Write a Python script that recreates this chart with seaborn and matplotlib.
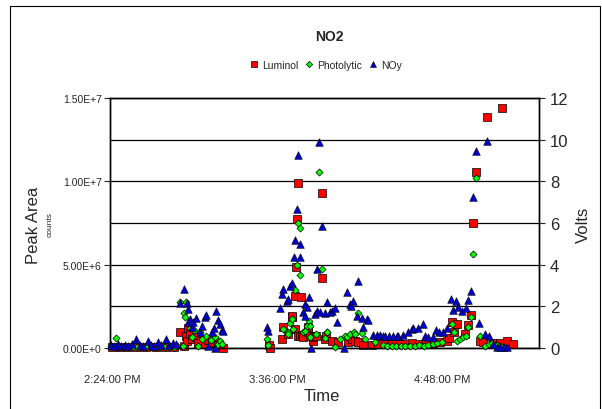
import numpy as np
import pandas as pd
import matplotlib
matplotlib.use('Agg')
from matplotlib import pyplot as plt
from matplotlib.lines import Line2D
from matplotlib.patches import Rectangle
from matplotlib.ticker import MultipleLocator, FuncFormatter
import seaborn as sns

############ --------------- DATA --------------- ###########
# time = minutes after 2:00 PM
# luminol: peak area, millions of counts
luminol = [(24.0, 0.05), (27.5, 0.06), (31.0, 0.04), (35.0, 0.06), (39.0, 0.05), (43.0, 0.06), (47.0, 0.05), (51.0, 0.07),
           (53.7, 0.96), (55.4, 0.12), (56.3, 0.72), (56.7, 0.42), (57.2, 1.20), (58.0, 0.84), (59.0, 0.56), (60.7, 0.66),
           (61.5, 0.30), (63.0, 0.44), (64.6, 0.24), (66.0, 0.50), (67.6, 0.30), (69.0, 0.38), (70.3, 0.18), (72.4, 0.02),
           (92.5, 0.19), (92.9, 0.03), (98.0, 0.54), (98.7, 1.24), (100.7, 0.84), (102.4, 1.84), (102.7, 1.94), (103.9, 1.14),
           (103.9, 3.14), (104.2, 4.88), (104.8, 7.74), (105.1, 9.90), (105.3, 0.74), (106.0, 0.74), (106.3, 3.08), (106.8, 0.78),
           (107.5, 0.66), (109.7, 0.94), (109.7, 1.28), (110.4, 0.75), (111.6, 0.44), (111.8, 0.64), (113.0, 0.74), (115.5, 4.20),
           (115.5, 9.29), (117.0, 0.54), (117.4, 0.74), (119.9, 0.44), (122.8, 0.38), (127.1, 0.34), (128.6, 0.54), (130.0, 0.44),
           (131.5, 0.38), (133.6, 0.18), (137.3, 0.18),
           (140.0, 0.25), (143.0, 0.22), (146.0, 0.28), (149.0, 0.25), (152.0, 0.22), (155.0, 0.28), (158.0, 0.25), (161.0, 0.28),
           (164.0, 0.31), (167.0, 0.35),
           (170.0, 0.44), (171.2, 0.58), (172.2, 1.54), (173.2, 0.98), (174.4, 1.44), (178.0, 0.84), (179.5, 1.38), (180.5, 1.98),
           (181.7, 7.49), (182.8, 10.54), (184.6, 0.44), (186.0, 0.34), (187.8, 13.84), (190.4, 0.30), (193.3, 0.30), (194.0, 14.40),
           (196.2, 0.44), (199.1, 0.24)]

# photolytic: volts
photolytic = [(23.5, 0.08), (25.7, 0.46), (27.0, 0.06), (29.0, 0.05), (31.0, 0.07), (33.0, 0.05), (35.0, 0.06), (37.0, 0.04),
              (39.0, 0.06), (41.0, 0.05), (43.0, 0.07), (45.0, 0.05), (47.0, 0.06), (49.0, 0.05), (51.0, 0.07), (52.5, 0.10),
              (53.7, 2.20), (55.0, 0.10), (55.4, 1.68), (55.8, 1.49), (56.3, 2.20), (58.0, 0.96), (58.9, 0.53), (59.8, 0.86),
              (61.5, 0.10), (62.4, 0.77), (63.3, 0.43), (65.0, 0.58), (67.2, 0.38), (68.9, 0.53), (70.0, 0.15), (71.1, 0.34),
              (72.0, 0.20),
              (91.5, 0.43), (92.2, 0.15), (98.7, 0.91), (100.7, 0.75), (100.9, 0.67), (101.7, 1.20), (102.4, 1.39), (103.1, 0.91),
              (103.9, 2.78), (104.6, 4.00), (105.1, 5.99), (105.8, 5.78), (106.0, 3.52), (107.5, 0.75), (108.2, 0.83), (109.2, 1.04),
              (109.8, 1.30), (110.4, 1.07), (110.4, 0.51), (112.9, 0.67), (114.5, 8.43), (115.5, 3.79), (116.7, 0.46), (117.7, 0.78),
              (118.0, 0.75), (121.3, 0.03), (123.5, 0.43), (125.7, 0.59), (126.4, 0.51), (127.9, 0.67), (129.6, 0.75), (130.0, 0.67),
              (131.5, 1.68), (133.0, 0.72), (134.4, 0.43), (138.8, 0.27), (142.4, 0.14),
              (144.0, 0.10), (146.0, 0.12), (148.0, 0.10), (150.0, 0.12), (152.0, 0.10), (154.0, 0.12), (156.0, 0.10), (158.0, 0.13),
              (160.0, 0.12), (162.0, 0.15), (164.0, 0.18), (166.0, 0.22), (168.0, 0.30),
              (172.2, 1.15), (173.2, 0.78), (174.4, 0.35), (175.9, 0.43), (177.3, 0.51), (178.5, 0.59), (179.5, 1.02), (180.5, 1.50),
              (181.7, 4.51), (182.8, 8.16), (184.6, 0.56), (186.8, 0.11), (188.5, 0.20), (190.0, 0.25), (191.9, 0.14), (193.5, 0.10)]

# NOy: volts
noy = [(23.5, 0.15), (25.0, 0.12), (26.5, 0.20), (28.0, 0.10), (29.5, 0.15), (31.0, 0.12), (32.5, 0.18), (34.5, 0.43),
       (36.0, 0.15), (37.5, 0.12), (39.7, 0.35), (41.0, 0.15), (42.5, 0.12), (44.1, 0.30), (45.5, 0.14), (47.6, 0.43),
       (49.0, 0.15), (50.6, 0.24), (52.0, 0.20),
       (53.7, 2.16), (55.4, 2.83), (56.7, 2.16), (57.2, 1.87), (57.2, 1.25), (58.0, 1.39), (58.9, 1.00), (59.3, 1.25),
       (60.7, 1.44), (62.4, 0.77), (63.3, 1.06), (64.6, 1.49), (65.0, 1.58), (65.9, 0.10), (67.6, 0.77), (68.5, 0.96),
       (68.9, 0.00), (69.4, 1.78), (70.3, 1.34), (71.1, 1.15), (72.0, 0.86), (72.4, 0.82),
       (91.5, 0.99), (92.2, 0.83), (97.3, 1.90), (98.3, 2.59), (98.7, 2.83), (100.2, 2.27), (100.8, 2.35), (101.7, 2.99),
       (102.4, 3.10), (103.6, 4.35), (103.9, 5.20), (104.8, 6.67), (105.1, 9.28), (105.8, 4.35), (106.0, 4.99), (107.5, 1.74),
       (108.2, 1.52), (108.2, 2.11), (109.2, 1.95), (110.0, 2.43), (110.7, 0.00), (112.6, 1.63), (113.3, 1.79), (113.3, 3.79),
       (114.5, 9.90), (114.8, 1.71), (115.5, 5.87), (116.7, 1.68), (118.0, 2.19), (119.1, 1.71), (119.9, 1.79), (121.3, 1.90),
       (122.3, 1.23), (125.4, 0.00), (126.4, 2.67), (127.9, 2.11), (128.3, 2.03), (129.3, 2.27), (130.8, 1.55), (131.5, 3.20),
       (133.0, 1.44), (133.6, 0.99), (135.1, 1.39), (135.8, 1.36),
       (138.0, 0.62), (139.5, 0.62), (140.9, 0.62), (142.4, 0.60), (143.1, 0.60), (144.8, 0.58), (146.7, 0.56), (148.2, 0.60),
       (148.9, 0.60), (151.1, 0.62), (153.3, 0.75), (154.8, 0.91), (155.4, 0.94), (157.6, 0.94), (159.5, 1.15), (160.5, 0.59),
       (162.0, 0.51), (164.2, 0.51), (165.4, 0.88), (166.8, 0.78), (168.3, 0.78), (170.0, 0.94),
       (171.9, 2.35), (172.9, 1.84), (174.1, 2.27), (175.1, 1.95), (176.6, 1.79), (178.3, 1.92), (179.5, 2.30), (180.5, 2.75),
       (181.7, 7.23), (182.7, 9.47), (184.3, 1.20), (186.8, 0.67), (187.5, 9.95), (188.7, 0.59), (190.4, 0.20), (191.9, 0.05),
       (193.5, 0.05), (195.0, 0.05), (196.2, 0.03)]

xtick_pos = [24, 96, 168]
xtick_labels = ['2:24:00 PM', '3:36:00 PM', '4:48:00 PM']

lum_df = pd.DataFrame(luminol, columns=['t', 'counts'])
lum_df['counts'] = lum_df['counts'] * 1e6
pho_df = pd.DataFrame(photolytic, columns=['t', 'volts'])
noy_df = pd.DataFrame(noy, columns=['t', 'volts'])

############ --------------- PLOT IT! --------------- ###########
sns.set_style('white')
plt.rcParams['font.family'] = ['Liberation Sans', 'DejaVu Sans']

W, H = 602, 410
fig = plt.figure(figsize=(W / 100, H / 100), dpi=100)
fig.patch.set_facecolor('white')

# outer chart frame
fig.patches.append(Rectangle((10 / W, -0.02), 590 / W, 1.02 - 7 / H, transform=fig.transFigure,
                             fill=False, edgecolor='black', linewidth=0.8))

ax = fig.add_axes([110 / W, 1 - 349 / H, 429 / W, 250 / H])
ax2 = ax.twinx()

myred = '#ff0000'
mygreen = '#00ff00'
myblue = '#0000cc'

sns.scatterplot(data=lum_df, x='t', y='counts', ax=ax, marker='s', color=myred, s=32,
                edgecolor='black', linewidth=0.5, clip_on=False, zorder=3, legend=False)
sns.scatterplot(data=pho_df, x='t', y='volts', ax=ax2, marker='D', color=mygreen, s=13,
                edgecolor='black', linewidth=0.5, clip_on=False, zorder=3, legend=False)
sns.scatterplot(data=noy_df, x='t', y='volts', ax=ax2, marker='^', color=myblue, s=30,
                edgecolor='black', linewidth=0.4, clip_on=False, zorder=4, legend=False)

# axes limits
ax.set_xlim(23.1, 210.3)
ax.set_ylim(0, 1.5e7)
ax2.set_ylim(0, 12)

# left axis ticks
def sci_fmt(v, pos):
    if v == 0:
        return '0.00E+0'
    e = int(np.floor(np.log10(abs(v))))
    return '%.2fE+%d' % (v / 10 ** e, e)

ax.yaxis.set_major_locator(MultipleLocator(5e6))
ax.yaxis.set_minor_locator(MultipleLocator(2.5e6))
ax.yaxis.set_major_formatter(FuncFormatter(sci_fmt))
ax.tick_params(axis='y', which='major', labelsize=7.5, length=4, width=0.8, direction='out', left=True, pad=2)
ax.tick_params(axis='y', which='minor', length=0)
ax.grid(which='both', axis='y', color='black', linewidth=0.9)
ax.set_axisbelow(True)

# right axis ticks
ax2.yaxis.set_major_locator(MultipleLocator(2))
ax2.tick_params(axis='y', labelsize=12, length=4, width=0.8, direction='out', right=True, pad=4)

# x ticks
ax.set_xticks(xtick_pos)
ax.set_xticklabels(xtick_labels)
ax.tick_params(axis='x', labelsize=8, length=0, pad=19)

ax.set_xlabel('')
ax.set_ylabel('')
ax2.set_ylabel('')

for a in (ax, ax2):
    for sp in a.spines.values():
        sp.set_color('black')
        sp.set_linewidth(1.0)
        sp.set_visible(True)

# labels
fig.text(329 / W, 1 - 37 / H, 'NO2', ha='center', va='center', fontsize=10, fontweight='bold')
fig.text(322 / W, 1 - 397 / H, 'Time', ha='center', va='center', fontsize=12)
fig.text(34 / W, 1 - 225 / H, 'Peak Area', ha='center', va='center', fontsize=12, rotation=90)
fig.text(50 / W, 1 - 225 / H, 'counts', ha='center', va='center', fontsize=6, rotation=90)
fig.text(583 / W, 1 - 225 / H, 'Volts', ha='center', va='center', fontsize=12, rotation=90)

# legend
handles = [Line2D([], [], linestyle='none', marker='s', markersize=5, markerfacecolor=myred,
                  markeredgecolor='black', markeredgewidth=0.5),
           Line2D([], [], linestyle='none', marker='D', markersize=3.2, markerfacecolor=mygreen,
                  markeredgecolor='black', markeredgewidth=0.5),
           Line2D([], [], linestyle='none', marker='^', markersize=5, markerfacecolor=myblue,
                  markeredgecolor='black', markeredgewidth=0.4)]
fig.legend(handles, ['Luminol', 'Photolytic', 'NOy'], loc='center', bbox_to_anchor=(326 / W, 1 - 66 / H),
           ncol=3, frameon=False, fontsize=7.5, handlelength=0.8, handletextpad=0.4, columnspacing=0.6)

fig.savefig('out.png', dpi=100)
